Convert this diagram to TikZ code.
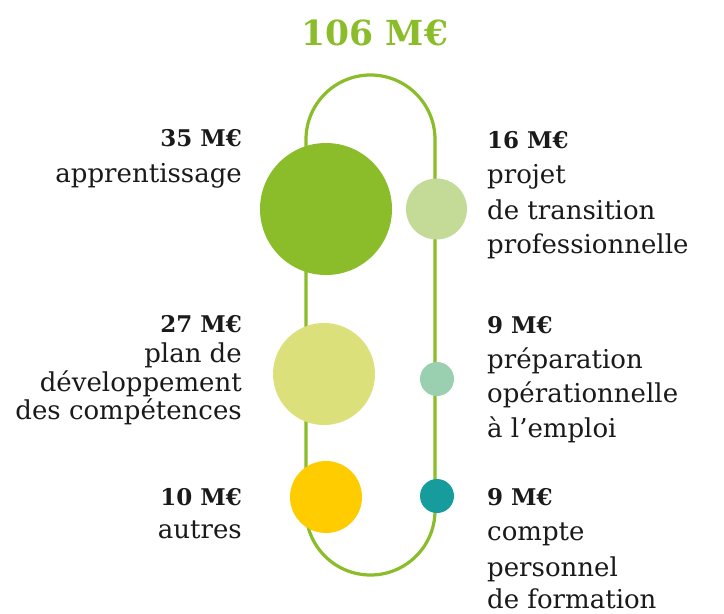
\documentclass[tikz,border=0pt]{standalone}
\usepackage{fontspec}
\setmainfont{DejaVu Serif}
\definecolor{trackgreen}{HTML}{8ABD29}
\definecolor{lightgreen}{HTML}{C4DA97}
\definecolor{yellowgreen}{HTML}{DCE07A}
\definecolor{mint}{HTML}{9ACFB0}
\definecolor{sunyellow}{HTML}{FFCC00}
\definecolor{tealc}{HTML}{169C9C}
\definecolor{ink}{HTML}{1A1A1A}
\begin{document}
\begin{tikzpicture}[x=1pt,y=-1pt,
  dot/.style={circle,inner sep=0pt,outer sep=0pt,draw=none},
  lbl/.style={inner sep=0pt,text=ink,font=\fontsize{26}{30}\selectfont},
  amt/.style={lbl,font=\fontsize{23}{28}\selectfont\bfseries},
  lft/.style={anchor=base east},
  rgt/.style={anchor=base west}]
\useasboundingbox (0,0) rectangle (724,614);
\fill[white] (0,0) rectangle (724,614);
% title
\node[inner sep=0pt,anchor=base,text=trackgreen,font=\fontsize{34.5}{40}\selectfont\bfseries] (title) at (375,45) {106 M€};
% track
\draw[trackgreen,line width=3.2pt,rounded corners=64.5pt] (306,75) rectangle (435,575);
% circles
\node[dot,fill=trackgreen,minimum size=132pt] (c1) at (326,209) {};
\node[dot,fill=lightgreen,minimum size=61pt] (c2) at (436.5,209) {};
\node[dot,fill=yellowgreen,minimum size=102pt] (c3) at (324,374) {};
\node[dot,fill=mint,minimum size=34pt] (c4) at (437,379) {};
\node[dot,fill=sunyellow,minimum size=72pt] (c5) at (326,497) {};
\node[dot,fill=tealc,minimum size=34pt] (c6) at (437,496) {};
% left labels
\node[amt,lft] (a1) at (242,146) {35 M€};
\node[lbl,lft] (a1b) at (242,182) {apprentissage};
\node[amt,lft] (a3) at (242,332) {27 M€};
\node[lbl,lft] (a3b) at (242,362) {plan de};
\node[lbl,lft] (a3c) at (242,391) {développement};
\node[lbl,lft] (a3d) at (242,419) {des compétences};
\node[amt,lft] (a5) at (242,505) {10 M€};
\node[lbl,lft] (a5b) at (242,538) {autres};
% right labels
\node[amt,rgt] (a2) at (487,148) {16 M€};
\node[lbl,rgt] (a2b) at (487,183) {projet};
\node[lbl,rgt] (a2c) at (487,219) {de transition};
\node[lbl,rgt] (a2d) at (487,253) {professionnelle};
\node[amt,rgt] (a4) at (487,333) {9 M€};
\node[lbl,rgt] (a4b) at (487,368) {préparation};
\node[lbl,rgt] (a4c) at (487,402) {opérationnelle};
\node[lbl,rgt] (a4d) at (487,437) {à l’emploi};
\node[amt,rgt] (a6) at (487,505) {9 M€};
\node[lbl,rgt] (a6b) at (487,540) {compte};
\node[lbl,rgt] (a6c) at (487,576) {personnel};
\node[lbl,rgt] (a6d) at (487,608) {de formation};
\end{tikzpicture}
\end{document}
